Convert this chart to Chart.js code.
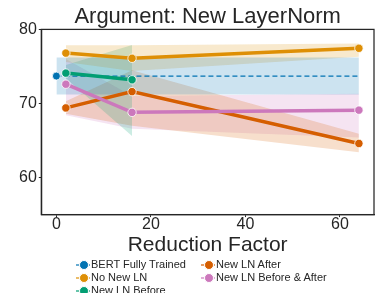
<!DOCTYPE html>
<html>
<head>
<meta charset="utf-8">
<script src="https://cdn.jsdelivr.net/npm/chart.js@4.4.1/dist/chart.umd.min.js"></script>
<style>
  body { margin: 0; background: #fff; }
  #wrap { position: relative; width: 379px; height: 293px; overflow: hidden; }
  #legend {
    position: absolute; left: 76px; top: 257.5px;
    display: grid; grid-template-columns: 125px 160px; grid-template-rows: 13px 13px 13px;
    grid-auto-flow: column;
    font-family: "Liberation Sans", Arial, sans-serif; font-size: 11px; color: #262626;
  }
  #legend div { display: flex; align-items: center; white-space: nowrap; line-height: 13px; }
  #legend i { position: relative; display: inline-block; width: 14px; height: 13px; margin-right: 1px; }
  #legend i b { position: absolute; left: 0; right: 0; top: 6px; height: 2px; opacity: .6; }
  #legend i u { position: absolute; left: 3px; top: 2px; width: 8px; height: 8px; border-radius: 50%; border: 0.5px solid #fff; }
</style>
</head>
<body>
<div id="wrap">
  <canvas id="grafico" width="379" height="293"></canvas>
  <div id="legend"></div>
</div>
<script>
// dati
const reductionFactors = [2, 16, 64]
const bertX = [0, 64]
const bertMean = [73.7, 73.7]
const bertLow = [71.2, 71.2]
const bertHigh = [76.2, 76.2]

const noNewLN = [76.8, 76.1, 77.45]
const noNewLNLow = [75.6, 74.4, 76.3]
const noNewLNHigh = [77.85, 77.85, 78.1]

const newLNBefore = [74.1, 73.2]
const newLNBeforeLow = [73.4, 65.6]
const newLNBeforeHigh = [75.2, 77.9]

const newLNAfter = [69.4, 71.6, 64.6]
const newLNAfterLow = [68.6, 67.0, 63.4]
const newLNAfterHigh = [70.3, 74.5, 65.9]

const newLNBeforeAfter = [72.6, 68.8, 69.1]
const newLNBeforeAfterLow = [68.4, 66.6, 65.4]
const newLNBeforeAfterHigh = [76.0, 71.0, 71.3]

const xTicks = [0, 20, 40, 60]
const yTicks = [60, 70, 80]

const colori = {
    bert: '#0173b2',
    noNew: '#de8f05',
    before: '#029e73',
    after: '#d55e00',
    beforeAfter: '#cc78bc'
}

const pts = (xs, ys) => ys.map((y, i) => ({x: xs[i], y: y}))
const alpha = (hex, a) => {
    const n = parseInt(hex.slice(1), 16)
    return `rgba(${n >> 16},${(n >> 8) & 255},${n & 255},${a})`
}

const serie = [
    {label: 'BERT Fully Trained', colore: colori.bert, xs: bertX, y: bertMean, lo: bertLow, hi: bertHigh, dash: true},
    {label: 'No New LN', colore: colori.noNew, xs: reductionFactors, y: noNewLN, lo: noNewLNLow, hi: noNewLNHigh},
    {label: 'New LN Before', colore: colori.before, xs: reductionFactors, y: newLNBefore, lo: newLNBeforeLow, hi: newLNBeforeHigh},
    {label: 'New LN After', colore: colori.after, xs: reductionFactors, y: newLNAfter, lo: newLNAfterLow, hi: newLNAfterHigh},
    {label: 'New LN Before & After', colore: colori.beforeAfter, xs: reductionFactors, y: newLNBeforeAfter, lo: newLNBeforeAfterLow, hi: newLNBeforeAfterHigh}
]

const datasets = []
// bande prima
serie.forEach(s => {
    const idx = datasets.length
    datasets.push({
        data: pts(s.xs, s.hi), borderWidth: 0, pointRadius: 0, tension: 0,
        backgroundColor: alpha(s.colore, 0.2), fill: {target: idx + 1}, order: 10
    })
    datasets.push({
        data: pts(s.xs, s.lo), borderWidth: 0, pointRadius: 0, tension: 0, fill: false, order: 10
    })
})
// linee
serie.forEach((s, k) => {
    datasets.push({
        label: s.label,
        data: pts(s.xs, s.y),
        borderColor: s.colore,
        backgroundColor: s.colore,
        borderWidth: s.dash ? 1.2 : 3.5,
        borderDash: s.dash ? [5, 3] : [],
        pointRadius: s.dash ? [4, 0] : 4.2,
        pointBorderColor: '#fff',
        pointBorderWidth: 0.8,
        pointBackgroundColor: s.colore,
        tension: 0,
        fill: false,
        order: 5 - k
    })
})

const cornice = {
    id: 'cornice',
    afterDraw(chart) {
        const {ctx, chartArea: a} = chart
        ctx.save()
        ctx.strokeStyle = '#262626'
        ctx.lineWidth = 1.25
        ctx.strokeRect(a.left, a.top, a.right - a.left, a.bottom - a.top)
        ctx.restore()
    }
}

const font = "'Liberation Sans', Arial, sans-serif"

new Chart(document.querySelector('#grafico'), {
    type: 'line',
    data: {datasets: datasets},
    plugins: [cornice],
    options: {
        responsive: false,
        animation: false,
        layout: {padding: {left: 17, right: 0, top: 0, bottom: 35.5}},
        plugins: {
            legend: {display: false},
            tooltip: {enabled: false},
            title: {
                display: true, text: 'Argument: New LayerNorm', fullSize: false,
                color: '#262626', font: {family: font, size: 22, weight: 'normal'},
                padding: {top: 4, bottom: -1}
            }
        },
        scales: {
            x: {
                type: 'linear', min: -3.2, max: 67.2,
                afterBuildTicks: ax => { ax.ticks = xTicks.map(v => ({value: v})) },
                grid: {drawOnChartArea: false, tickLength: 2.5, tickColor: '#262626'},
                border: {color: '#262626', width: 1.25},
                ticks: {color: '#262626', font: {family: font, size: 16}, padding: -2, maxRotation: 0},
                title: {display: true, text: 'Reduction Factor', color: '#262626', font: {family: font, size: 21}, padding: {top: 0, bottom: 0}}
            },
            y: {
                min: 55, max: 80,
                afterBuildTicks: ax => { ax.ticks = yTicks.map(v => ({value: v})) },
                grid: {drawOnChartArea: false, tickLength: 2.5, tickColor: '#262626'},
                border: {color: '#262626', width: 1.25},
                ticks: {color: '#262626', font: {family: font, size: 16}, padding: 2}
            }
        }
    }
})

// legenda in due colonne
const legend = document.querySelector('#legend')
serie.forEach(s => {
    const d = document.createElement('div')
    d.innerHTML = `<i><b style="background:${s.colore}"></b><u style="background:${s.colore}"></u></i>${s.label}`
    legend.appendChild(d)
})
</script>
</body>
</html>
